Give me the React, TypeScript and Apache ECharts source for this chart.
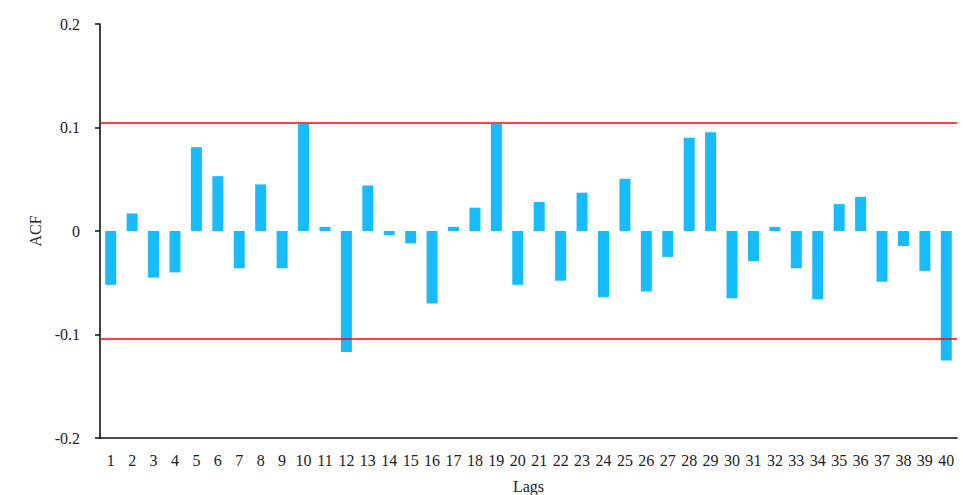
import React, { useEffect, useRef } from "react";
import * as echarts from "echarts";

const lags: string[] = Array.from({ length: 40 }, (_, i) => String(i + 1));
const acfValues: number[] = [
  -0.052, 0.017, -0.045, -0.04, 0.081, 0.053, -0.036, 0.045, -0.036, 0.1035,
  0.004, -0.117, 0.044, -0.004, -0.012, -0.07, 0.004, 0.0225, 0.1035, -0.052,
  0.028, -0.048, 0.037, -0.064, 0.0505, -0.0585, -0.025, 0.09, 0.0955, -0.065,
  -0.029, 0.004, -0.036, -0.066, 0.026, 0.033, -0.049, -0.0145, -0.0385, -0.125,
];
const confidenceBounds: number[] = [0.1042, -0.1042];
const yTicks = { min: -0.2, max: 0.2, interval: 0.1 };

const FONT = "'Liberation Serif', 'Times New Roman', serif";

export default function App() {
  const ref = useRef<HTMLDivElement>(null);
  useEffect(() => {
    if (!ref.current) return;
    const chart = echarts.init(ref.current, undefined, { renderer: "svg" });
    chart.setOption({
      animation: false,
      backgroundColor: "#ffffff",
      grid: { left: 100, right: 6, top: 24, bottom: 57, containLabel: false, outerBoundsMode: "none" },
      xAxis: {
        type: "category",
        data: lags,
        name: "Lags",
        nameLocation: "middle",
        nameGap: 40,
        nameTextStyle: { fontFamily: FONT, fontSize: 16, color: "#222" },
        axisLine: { onZero: false, lineStyle: { color: "#111", width: 1.6 } },
        axisTick: { alignWithLabel: true, length: 6, lineStyle: { color: "#111", width: 1.5 } },
        axisLabel: { fontFamily: FONT, fontSize: 16, color: "#222", margin: 14, interval: 0 },
        splitLine: { show: false },
      },
      yAxis: {
        type: "value",
        min: yTicks.min,
        max: yTicks.max,
        interval: yTicks.interval,
        name: "ACF",
        nameLocation: "middle",
        nameGap: 55,
        nameTextStyle: { fontFamily: FONT, fontSize: 16, color: "#222" },
        axisLine: { show: true, lineStyle: { color: "#111", width: 1.6 } },
        axisTick: { show: true, length: 5, lineStyle: { color: "#111", width: 1.5 } },
        axisLabel: { fontFamily: FONT, fontSize: 16, color: "#222", margin: 20 },
        splitLine: { show: false },
      },
      series: [
        {
          type: "bar",
          data: acfValues,
          barWidth: 11,
          itemStyle: { color: "#16bcfe" },
          markLine: {
            silent: true,
            symbol: "none",
            precision: 4,
            label: { show: false },
            lineStyle: { color: "#ff0000", width: 1.5, type: "solid" },
            data: confidenceBounds.map((v) => ({ yAxis: v })),
          },
        },
      ],
    });
    return () => chart.dispose();
  }, []);
  return (
    <div
      ref={ref}
      style={{ position: "fixed", left: 0, top: 0, width: 963, height: 495, background: "#fff" }}
    />
  );
}
